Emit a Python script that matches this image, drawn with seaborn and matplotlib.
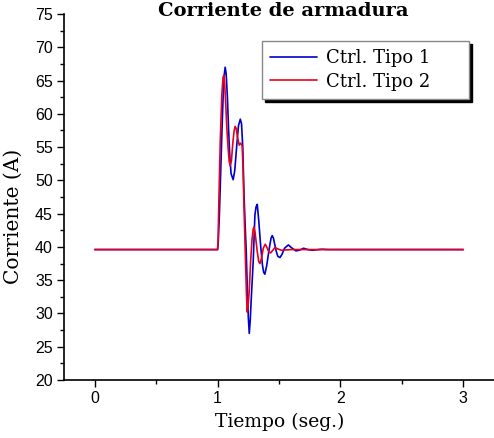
import pandas as pd
import seaborn as sns
import matplotlib.pyplot as plt
from matplotlib.ticker import MultipleLocator

# Ctrl. Tipo 1 (blue)
t1 = [0.0, 1.0, 1.005, 1.015, 1.025, 1.035, 1.045, 1.055, 1.062, 1.07, 1.08, 1.09,
      1.10, 1.11, 1.127, 1.14, 1.155, 1.17, 1.185, 1.195, 1.205, 1.215, 1.225, 1.233,
      1.24, 1.25, 1.258, 1.266, 1.275, 1.29, 1.304, 1.313, 1.323, 1.335, 1.35, 1.365,
      1.375, 1.385, 1.40, 1.421, 1.435, 1.445, 1.455, 1.475, 1.49, 1.508, 1.525, 1.545,
      1.576, 1.60, 1.638, 1.665, 1.70, 1.735, 1.77, 1.82, 1.85, 1.9, 3.0]
i1 = [39.6, 39.6, 40.5, 45.0, 51.0, 57.0, 62.5, 66.0, 67.0, 66.0, 62.5, 57.5,
      53.5, 51.0, 50.1, 51.5, 55.0, 58.2, 59.2, 58.5, 55.0, 48.0, 43.0, 39.5,
      35.0, 29.5, 27.0, 29.0, 32.5, 37.8, 44.8, 46.0, 46.4, 44.0, 40.3, 37.3,
      36.2, 35.9, 37.2, 39.8, 41.3, 41.7, 41.3, 39.5, 38.6, 38.4, 38.9, 39.8,
      40.3, 39.9, 39.4, 39.5, 39.8, 39.6, 39.5, 39.6, 39.65, 39.6, 39.6]

# Ctrl. Tipo 2 (red)
t2 = [0.0, 1.0, 1.004, 1.012, 1.022, 1.035, 1.045, 1.051, 1.058, 1.065, 1.075, 1.085,
      1.095, 1.103, 1.113, 1.125, 1.135, 1.143, 1.152, 1.162, 1.176, 1.188, 1.20, 1.207,
      1.215, 1.225, 1.235, 1.241, 1.25, 1.258, 1.269, 1.28, 1.29, 1.296, 1.305, 1.323,
      1.335, 1.345, 1.358, 1.372, 1.388, 1.40, 1.416, 1.432, 1.45, 1.467, 1.49, 1.52,
      1.6, 3.0]
i2 = [39.6, 39.6, 41.0, 48.0, 56.0, 63.0, 65.5, 65.8, 64.5, 62.0, 58.0, 55.0,
      52.8, 52.2, 53.0, 55.8, 57.5, 58.1, 57.8, 56.5, 55.3, 55.6, 55.2, 52.0,
      46.0, 39.5, 33.0, 30.2, 31.5, 33.5, 37.8, 41.0, 42.7, 43.0, 42.2, 39.3,
      37.8, 37.5, 38.3, 39.8, 40.4, 40.0, 39.3, 39.1, 39.5, 39.9, 39.7, 39.5,
      39.6, 39.6]

labels = ['Ctrl. Tipo 1', 'Ctrl. Tipo 2']
colors = ['#0000cc', '#e8001c']

df = pd.concat([
    pd.DataFrame({'t': t1, 'i': i1, 'ctrl': labels[0]}),
    pd.DataFrame({'t': t2, 'i': i2, 'ctrl': labels[1]}),
])

sns.set_style('ticks')
plt.rcParams['font.family'] = ['DejaVu Serif']

fig = plt.figure(figsize=(4.94, 4.38), dpi=100)
ax = fig.add_axes([64 / 494, 1 - 380 / 438, 1 - 64 / 494, (380 - 14) / 438])

sns.lineplot(data=df, x='t', y='i', hue='ctrl', palette=colors, estimator=None,
             sort=True, linewidth=1.2, ax=ax)

ax.set_xlim(-0.25, 3.25)
ax.set_ylim(20, 75)
ax.xaxis.set_major_locator(MultipleLocator(1))
ax.xaxis.set_minor_locator(MultipleLocator(0.5))
ax.yaxis.set_major_locator(MultipleLocator(5))
ax.yaxis.set_minor_locator(MultipleLocator(2.5))
ax.tick_params(which='major', length=5, width=1, labelsize=11.5, direction='out',
               color='black', labelcolor='black', pad=3)
ax.tick_params(which='minor', length=3, width=1, direction='out', color='black')
for lab in ax.get_xticklabels() + ax.get_yticklabels():
    lab.set_family('Liberation Sans')
for side in ['top', 'right']:
    ax.spines[side].set_visible(False)
for side in ['left', 'bottom']:
    ax.spines[side].set_linewidth(1.2)
    ax.spines[side].set_color('black')

ax.set_xlabel('Tiempo (seg.)', fontsize=13.5, color='black')
ax.set_ylabel('Corriente (A)', fontsize=14.5, color='black')
ax.xaxis.set_label_coords((280 - 64) / 430, -(413 - 380) / 366)
ax.yaxis.set_label_coords(-(64 - 23) / 430, (380 - 216) / 366)
fig.text(283 / 494, 1 - 11 / 438, 'Corriente de armadura', ha='center', va='center',
         fontsize=14, fontweight='bold', color='black')

leg = ax.legend(loc='upper left', bbox_to_anchor=(0.4605, 0.762, 0.4814, 0.164),
                mode='expand', frameon=True, fancybox=False,
                shadow={'color': 'black', 'alpha': 1},
                fontsize=13, handlelength=2.6, borderpad=0.45, labelspacing=0.3,
                handletextpad=0.5, borderaxespad=0)
leg.get_frame().set_edgecolor('#888888')
leg.get_frame().set_linewidth(1.0)
for text in leg.get_texts():
    text.set_color('black')

fig.savefig('out.png', dpi=100)
